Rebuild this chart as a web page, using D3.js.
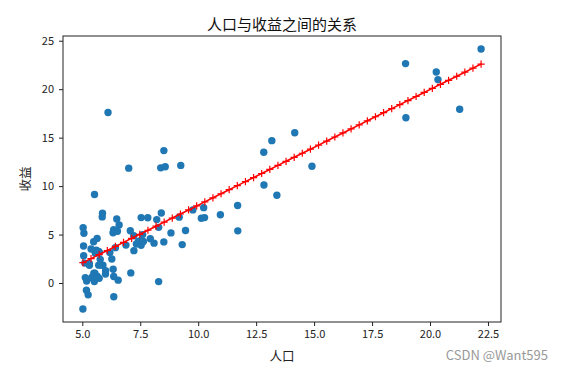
<!DOCTYPE html>
<html>
<head>
<meta charset="utf-8">
<script src="https://cdn.jsdelivr.net/npm/d3@7"></script>
<style>
  body { margin: 0; background: #fff; }
  text { font-family: "Noto Sans CJK SC", "DejaVu Sans", sans-serif; }
</style>
</head>
<body>
<div id="chart"></div>
<script>
// population (x) and profit (y)
const population = [6.1101, 5.5277, 8.5186, 7.0032, 5.8598, 8.3829, 7.4764, 8.5781, 6.4862, 5.0546,
  5.7107, 14.164, 5.734, 8.4084, 5.6407, 5.3794, 6.3654, 5.1301, 6.4296, 7.0708,
  6.1891, 20.27, 5.4901, 6.3261, 5.5649, 18.945, 12.828, 10.957, 13.176, 22.203,
  5.2524, 6.5894, 9.2482, 5.8918, 8.2111, 7.9334, 8.0959, 5.6063, 12.836, 6.3534,
  5.4069, 6.8825, 11.708, 5.7737, 7.8247, 7.0931, 5.0702, 5.8014, 11.7, 5.5416,
  7.5402, 5.3077, 7.4239, 7.6031, 6.3328, 6.3589, 6.2742, 5.6397, 9.3102, 9.4536,
  8.8254, 5.1793, 21.279, 14.908, 18.959, 7.2182, 8.2951, 10.236, 5.4994, 20.341,
  10.136, 7.3345, 6.0062, 7.2259, 5.0269, 6.5479, 7.5386, 5.0365, 10.274, 5.1077,
  5.7292, 5.1884, 6.3557, 9.7687, 6.5159, 8.5172, 9.1802, 6.002, 5.5204, 5.0594,
  5.7077, 7.6366, 5.8707, 5.3054, 8.2934, 13.394, 5.4369];
const profit = [17.592, 9.1302, 13.662, 11.854, 6.8233, 11.886, 4.3483, 12, 6.5987, 3.8166,
  3.2522, 15.505, 3.1551, 7.2258, 0.71618, 3.5129, 5.3048, 0.56077, 3.6518, 5.3893,
  3.1386, 21.767, 4.263, 5.1875, 3.0825, 22.638, 13.501, 7.0467, 14.692, 24.147,
  -1.22, 5.9966, 12.134, 1.8495, 6.5426, 4.5623, 4.1164, 3.3928, 10.117, 5.4974,
  0.55657, 3.9115, 5.3854, 2.4406, 6.7318, 1.0463, 5.1337, 1.844, 8.0043, 1.0179,
  6.7504, 1.8396, 4.2885, 4.9981, 1.4233, -1.4211, 2.4756, 4.6042, 3.9624, 5.4141,
  5.1694, -0.74279, 17.929, 12.054, 17.054, 4.8852, 5.7442, 7.7754, 1.0173, 20.992,
  6.6799, 4.0259, 1.2784, 3.3411, -2.6807, 0.29678, 3.8845, 5.7014, 6.7526, 2.0576,
  0.47953, 0.20421, 0.67861, 7.5435, 5.3436, 4.2415, 6.7981, 0.92695, 0.152, 2.8214,
  1.8451, 4.2959, 7.2029, 1.9869, 0.14454, 9.0551, 0.61705];

// fitted model: profit = theta[0] + theta[1] * population, sampled at 50 points
const theta = [-3.8958, 1.1930];
const fitSamples = 50;

const xTicks = [5.0, 7.5, 10.0, 12.5, 15.0, 17.5, 20.0, 22.5];
const yTicks = [0, 5, 10, 15, 20, 25];

const width = 564, height = 371;
const margin = { top: 36, right: 63, bottom: 49, left: 63 };

const svg = d3.select('#chart').append('svg')
  .attr('width', width)
  .attr('height', height);

const xMin = d3.min(population), xMax = d3.max(population);
const yMin = d3.min(profit), yMax = d3.max(profit);
const xPad = (xMax - xMin) * 0.05, yPad = (yMax - yMin) * 0.05;

const x = d3.scaleLinear()
  .domain([xMin - xPad, xMax + xPad])
  .range([margin.left, width - margin.right]);
const y = d3.scaleLinear()
  .domain([yMin - yPad, yMax + yPad])
  .range([height - margin.bottom, margin.top]);

// scatter
svg.append('g')
  .selectAll('circle')
  .data(population)
  .enter()
  .append('circle')
  .attr('cx', d => x(d))
  .attr('cy', (d, i) => y(profit[i]))
  .attr('r', 3.7)
  .attr('fill', '#1f77b4');

// fit line with '+' markers
const fitX = d3.range(fitSamples).map(i => xMin + (xMax - xMin) * i / (fitSamples - 1));
const fit = fitX.map(v => [v, theta[0] + theta[1] * v]);

svg.append('path')
  .datum(fit)
  .attr('fill', 'none')
  .attr('stroke', 'red')
  .attr('stroke-width', 1.6)
  .attr('d', d3.line().x(d => x(d[0])).y(d => y(d[1])));

svg.append('g')
  .selectAll('path')
  .data(fit)
  .enter()
  .append('path')
  .attr('d', d => {
    const cx = x(d[0]), cy = y(d[1]), s = 3.6;
    return `M${cx - s},${cy}H${cx + s}M${cx},${cy - s}V${cy + s}`;
  })
  .attr('stroke', 'red')
  .attr('stroke-width', 1.2);

// axes
const xAxis = svg.append('g')
  .attr('transform', `translate(0,${height - margin.bottom})`)
  .call(d3.axisBottom(x).tickValues(xTicks).tickFormat(d3.format('.1f')).tickSizeOuter(0).tickSize(4).tickPadding(4));
const yAxis = svg.append('g')
  .attr('transform', `translate(${margin.left},0)`)
  .call(d3.axisLeft(y).tickValues(yTicks).tickSizeOuter(0).tickSize(4).tickPadding(5));

[xAxis, yAxis].forEach(g => {
  g.select('.domain').remove();
  g.selectAll('line').attr('stroke', '#222');
  g.selectAll('text').attr('fill', '#222').style('font-size', '11px');
});

// frame
svg.append('rect')
  .attr('x', margin.left)
  .attr('y', margin.top)
  .attr('width', width - margin.left - margin.right)
  .attr('height', height - margin.top - margin.bottom)
  .attr('fill', 'none')
  .attr('stroke', '#222')
  .attr('stroke-width', 1);

// labels
svg.append('text')
  .attr('x', (margin.left + width - margin.right) / 2)
  .attr('y', 30)
  .attr('text-anchor', 'middle')
  .attr('fill', '#111')
  .style('font-size', '15px')
  .text('人口与收益之间的关系');

svg.append('text')
  .attr('x', (margin.left + width - margin.right) / 2)
  .attr('y', 361)
  .attr('text-anchor', 'middle')
  .attr('fill', '#222')
  .style('font-size', '12.5px')
  .text('人口');

svg.append('text')
  .attr('transform', `translate(30,${(margin.top + height - margin.bottom) / 2}) rotate(-90)`)
  .attr('text-anchor', 'middle')
  .attr('fill', '#222')
  .style('font-size', '12.5px')
  .text('收益');

svg.append('text')
  .attr('x', 548)
  .attr('y', 360)
  .attr('text-anchor', 'end')
  .attr('fill', '#999')
  .style('font-size', '13px')
  .text('CSDN @Want595');
</script>
</body>
</html>
